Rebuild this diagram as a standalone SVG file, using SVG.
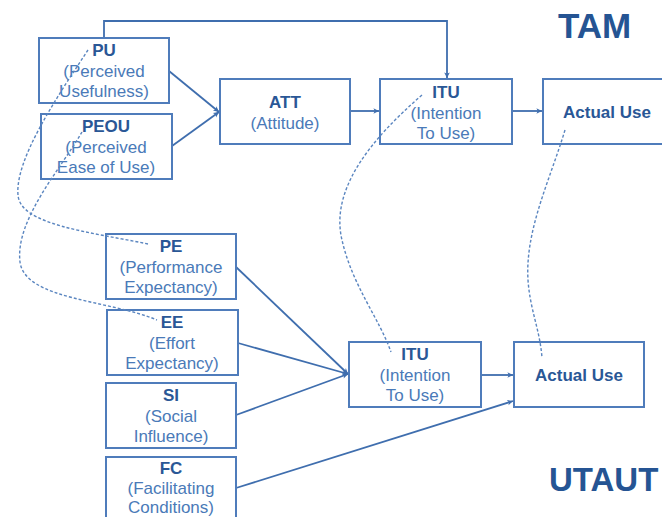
<svg xmlns="http://www.w3.org/2000/svg" width="662" height="517" viewBox="0 0 662 517">
<defs>
<marker id="arr" viewBox="0 0 10 10" refX="9" refY="5" markerWidth="7" markerHeight="7" markerUnits="userSpaceOnUse" orient="auto">
<path d="M1,1 L9,5 L1,9 L3,5 Z" fill="#3f6eae"/>
</marker>
<style>
.box{fill:#ffffff;stroke:#4f7cbb;stroke-width:2}
.t{font-family:"Liberation Sans",Arial,sans-serif;font-size:17px;fill:#2a5796;font-weight:bold;text-anchor:middle}
.s{font-family:"Liberation Sans",Arial,sans-serif;font-size:17px;fill:#4a7ab8;text-anchor:middle}
.big{font-family:"Liberation Sans",Arial,sans-serif;font-size:35px;fill:#255493;font-weight:bold}
.c{fill:none;stroke:#3f6eae;stroke-width:1.8}
.d{fill:none;stroke:#5b86c0;stroke-width:1.4;stroke-dasharray:3 2}
</style>
</defs>
<rect width="662" height="517" fill="#ffffff"/>
<text class="big" x="558" y="38">TAM</text>
<text class="big" x="549" y="491" style="font-size:33px">UTAUT</text>

<g id="connectors">
<polyline class="c" points="104,38 104,21 447,21 447,78" marker-end="url(#arr)"/>
<line class="c" x1="169" y1="71" x2="219" y2="112" marker-end="url(#arr)"/>
<line class="c" x1="172" y1="146" x2="219" y2="112" marker-end="url(#arr)"/>
<line class="c" x1="350" y1="111" x2="379" y2="111" marker-end="url(#arr)"/>
<line class="c" x1="512" y1="111" x2="542" y2="111" marker-end="url(#arr)"/>
<line class="c" x1="236" y1="267" x2="348" y2="374" marker-end="url(#arr)"/>
<line class="c" x1="238" y1="343" x2="348" y2="374" marker-end="url(#arr)"/>
<line class="c" x1="236" y1="415" x2="348" y2="374" marker-end="url(#arr)"/>
<line class="c" x1="236" y1="488" x2="513" y2="401" marker-end="url(#arr)"/>
<line class="c" x1="481" y1="375" x2="513" y2="375" marker-end="url(#arr)"/>
</g>

<g id="PU"><rect class="box" x="39" y="38" width="130" height="65"/><text class="t" x="104" y="56">PU</text><text class="s" x="104" y="77">(Perceived</text><text class="s" x="104" y="97">Usefulness)</text></g>
<g id="PEOU"><rect class="box" x="41" y="114" width="131" height="65"/><text class="t" x="106" y="132">PEOU</text><text class="s" x="106" y="153">(Perceived</text><text class="s" x="106" y="173">Ease of Use)</text></g>
<g id="ATT"><rect class="box" x="220" y="79" width="130" height="65"/><text class="t" x="285" y="108">ATT</text><text class="s" x="285" y="129">(Attitude)</text></g>
<g id="ITU_TAM"><rect class="box" x="380" y="79" width="132" height="65"/><text class="t" x="446" y="98">ITU</text><text class="s" x="446" y="119">(Intention</text><text class="s" x="446" y="139">To Use)</text></g>
<g id="AU_TAM"><rect class="box" x="543" y="79" width="130" height="65"/><text class="t" x="607" y="118">Actual Use</text></g>

<g id="PE"><rect class="box" x="106" y="234" width="130" height="65"/><text class="t" x="171" y="252">PE</text><text class="s" x="171" y="273">(Performance</text><text class="s" x="171" y="293">Expectancy)</text></g>
<g id="EE"><rect class="box" x="107" y="310" width="131" height="65"/><text class="t" x="172" y="328">EE</text><text class="s" x="172" y="349">(Effort</text><text class="s" x="172" y="369">Expectancy)</text></g>
<g id="SI"><rect class="box" x="106" y="383" width="130" height="65"/><text class="t" x="171" y="401">SI</text><text class="s" x="171" y="422">(Social</text><text class="s" x="171" y="442">Influence)</text></g>
<g id="FC"><rect class="box" x="106" y="457" width="130" height="65"/><text class="t" x="171" y="474">FC</text><text class="s" x="171" y="494">(Facilitating</text><text class="s" x="171" y="513">Conditions)</text></g>
<g id="ITU_UTAUT"><rect class="box" x="349" y="342" width="132" height="65"/><text class="t" x="415" y="360">ITU</text><text class="s" x="415" y="381">(Intention</text><text class="s" x="415" y="401">To Use)</text></g>
<g id="AU_UTAUT"><rect class="box" x="514" y="342" width="130" height="65"/><text class="t" x="579" y="381">Actual Use</text></g>

<g id="mappings">
<path class="d" d="M88,50 C55,100 15,160 18,195 C20,225 90,232 148,244"/>
<path class="d" d="M82,132 C60,170 15,220 20,262 C25,300 110,300 157,320"/>
<path class="d" d="M422,95 C370,140 330,190 342,240 C352,285 380,320 391,352"/>
<path class="d" d="M565,130 C550,180 525,230 528,280 C530,310 540,330 542,358"/>
</g>
</svg>
